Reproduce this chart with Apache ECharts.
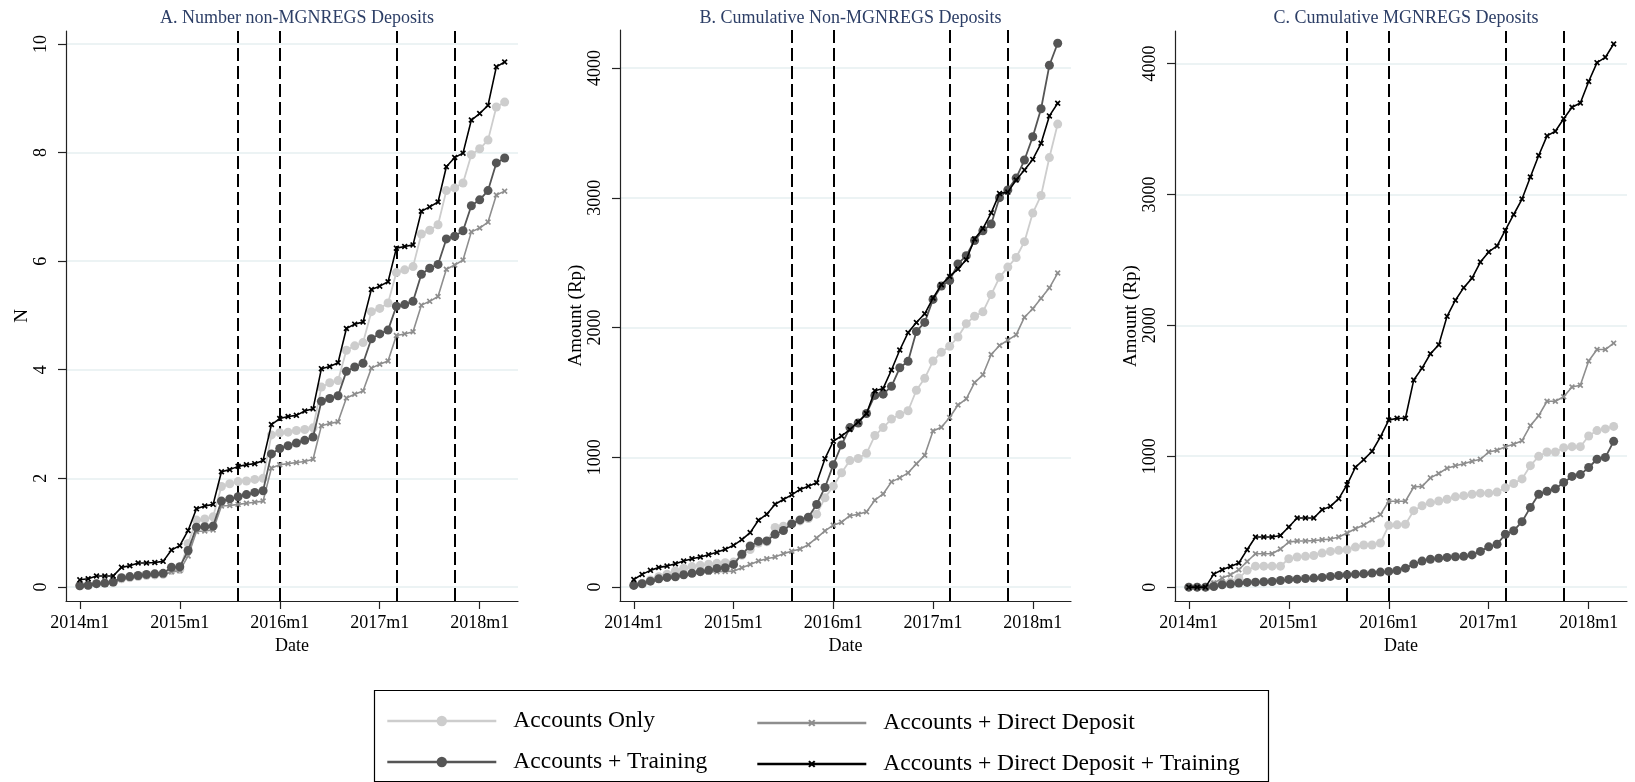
<!DOCTYPE html>
<html><head><meta charset="utf-8">
<script src="https://cdn.jsdelivr.net/npm/echarts@6/dist/echarts.min.js"></script>
<style>html,body{margin:0;padding:0;background:#fff}#c{width:1635px;height:782px}</style>
</head><body><div id="c"></div>
<script>
// ---- data ----
const dates = ['2014m1','2014m2','2014m3','2014m4','2014m5','2014m6','2014m7','2014m8','2014m9','2014m10','2014m11','2014m12',
 '2015m1','2015m2','2015m3','2015m4','2015m5','2015m6','2015m7','2015m8','2015m9','2015m10','2015m11','2015m12',
 '2016m1','2016m2','2016m3','2016m4','2016m5','2016m6','2016m7','2016m8','2016m9','2016m10','2016m11','2016m12',
 '2017m1','2017m2','2017m3','2017m4','2017m5','2017m6','2017m7','2017m8','2017m9','2017m10','2017m11','2017m12',
 '2018m1','2018m2','2018m3','2018m4'];
const tickLabels = ['2014m1','2015m1','2016m1','2017m1','2018m1'];
const eventDates = ['2015m8','2016m1','2017m3','2017m10'];
const seriesNames = ['Accounts Only','Accounts + Training','Accounts + Direct Deposit','Accounts + Direct Deposit + Training'];
const panelTitles = ['A. Number non-MGNREGS Deposits','B. Cumulative Non-MGNREGS Deposits','C. Cumulative MGNREGS Deposits'];
const yTitles = ['N','Amount (Rp)','Amount (Rp)'];
const yTicksA = [0,2,4,6,8,10];
const yTicksBC = [0,1000,2000,3000,4000];

// Panel A: number of non-MGNREGS deposits
const A_only = [0.02,0.03,0.06,0.07,0.08,0.15,0.17,0.19,0.21,0.22,0.23,0.30,0.32,0.80,1.23,1.25,1.29,1.85,1.90,1.94,1.95,1.98,2.00,2.80,2.84,2.85,2.88,2.90,2.93,3.68,3.76,3.80,4.36,4.44,4.50,5.07,5.13,5.23,5.79,5.84,5.90,6.50,6.57,6.67,7.30,7.35,7.44,7.96,8.07,8.23,8.84,8.93];
const A_train = [0.02,0.03,0.06,0.07,0.09,0.17,0.19,0.21,0.23,0.24,0.25,0.36,0.37,0.67,1.10,1.11,1.12,1.58,1.62,1.66,1.70,1.74,1.77,2.45,2.55,2.60,2.65,2.70,2.76,3.42,3.47,3.52,3.97,4.05,4.12,4.57,4.66,4.73,5.17,5.20,5.26,5.76,5.87,5.94,6.41,6.46,6.56,7.02,7.13,7.30,7.81,7.90];
const A_dd = [0.02,0.03,0.05,0.06,0.07,0.14,0.16,0.18,0.20,0.21,0.22,0.28,0.30,0.57,1.02,1.03,1.05,1.49,1.50,1.52,1.54,1.56,1.58,2.19,2.25,2.27,2.29,2.31,2.35,2.97,3.01,3.04,3.48,3.55,3.61,4.03,4.10,4.16,4.63,4.66,4.70,5.19,5.26,5.35,5.85,5.93,6.02,6.54,6.61,6.72,7.22,7.29];
const A_ddt = [0.13,0.15,0.20,0.20,0.20,0.36,0.39,0.44,0.44,0.45,0.47,0.68,0.76,1.04,1.44,1.49,1.52,2.12,2.16,2.22,2.25,2.27,2.33,2.99,3.10,3.14,3.16,3.24,3.28,4.02,4.06,4.13,4.76,4.84,4.88,5.48,5.54,5.62,6.24,6.27,6.30,6.92,7.00,7.09,7.74,7.91,7.99,8.60,8.72,8.87,9.58,9.67];

// Panel B: cumulative non-MGNREGS deposits (Rp)
const B_only = [15,30,55,80,100,125,145,158,168,176,183,188,193,245,290,340,350,459,469,490,510,528,562,688,778,881,975,991,1031,1168,1229,1295,1330,1359,1517,1609,1742,1810,1856,1927,2030,2087,2121,2254,2387,2466,2540,2662,2882,3018,3310,3568];
const B_train = [13,26,46,64,75,80,95,106,119,129,144,149,175,253,317,353,356,407,436,487,518,539,637,768,943,1096,1229,1265,1338,1477,1487,1547,1690,1740,1970,2040,2217,2320,2363,2490,2554,2671,2746,2798,3001,3061,3152,3291,3470,3686,4021,4191];
const B_dd = [10,25,40,55,65,75,88,100,111,116,119,121,123,149,175,201,219,232,258,276,294,327,379,433,477,500,550,562,580,670,718,811,842,880,950,1016,1203,1232,1307,1403,1451,1576,1636,1792,1862,1903,1944,2080,2145,2225,2306,2420];
const B_ddt = [59,98,129,152,162,180,201,219,232,250,268,291,322,366,420,515,562,639,675,711,753,778,804,990,1124,1165,1214,1273,1338,1513,1531,1673,1827,1961,2039,2106,2227,2330,2394,2451,2523,2683,2763,2884,3034,3044,3137,3214,3296,3420,3631,3729];

// Panel C: cumulative MGNREGS deposits (Rp)
const C_only = [0,0,0,18,31,38,69,128,160,160,160,160,217,230,235,242,260,273,281,286,306,322,322,337,472,476,480,584,622,644,658,671,690,699,710,718,718,726,759,792,827,928,999,1032,1032,1065,1073,1073,1155,1196,1209,1228];
const C_train = [0,0,0,5,18,23,31,36,38,41,43,51,59,61,66,69,74,82,89,94,99,102,107,115,120,127,145,176,199,213,221,227,232,235,246,273,308,328,404,431,500,609,710,732,751,800,846,860,914,977,991,1114];
const C_dd = [0,0,0,31,69,94,133,196,255,255,255,291,344,352,352,355,362,367,383,413,446,474,515,554,656,656,656,765,770,835,868,909,928,942,961,977,1032,1046,1073,1092,1119,1234,1310,1420,1420,1455,1529,1542,1728,1815,1815,1864];
const C_ddt = [0,0,0,99,133,158,184,286,383,383,383,395,459,528,528,528,592,617,676,783,916,974,1038,1148,1276,1290,1290,1583,1673,1783,1851,2069,2192,2288,2361,2484,2561,2607,2727,2847,2965,3134,3298,3448,3483,3579,3666,3699,3863,4007,4048,4150];

// ---- styling / layout ----
const FONT = 'Liberation Serif';
const panels = [
  {data:[A_only,A_train,A_dd,A_ddt], yMin:-0.26, yMax:10.24, yTicks:yTicksA, grid:{left:66, top:31, width:452, height:570}},
  {data:[B_only,B_train,B_dd,B_ddt], yMin:-107, yMax:4293, yTicks:yTicksBC, grid:{left:620, top:30, width:451, height:571}},
  {data:[C_only,C_train,C_dd,C_ddt], yMin:-106, yMax:4249, yTicks:yTicksBC, grid:{left:1175, top:31, width:452, height:570}}
];
const XSYM = 'path://M0,2L2,0L5,3L8,0L10,2L7,5L10,8L8,10L5,7L2,10L0,8L3,5Z';
const styles = [
  {color:'#cdcdcd', symbol:'circle', size:9, width:1.8, z:2},
  {color:'#555555', symbol:'circle', size:9, width:1.8, z:4},
  {color:'#8e8e8e', symbol:XSYM, size:6, width:1.6, z:3},
  {color:'#000000', symbol:XSYM, size:6, width:1.6, z:5}
];
const tickIdx = tickLabels.map(t => dates.indexOf(t));
const eventIdx = eventDates.map(t => dates.indexOf(t));

const grids = [], xAxes = [], yAxes = [], series = [], titles = [];
panels.forEach((p, k) => {
  grids.push(Object.assign({containLabel:false}, p.grid));
  titles.push({text: panelTitles[k], left: p.grid.left + p.grid.width/2, top: 4, textAlign:'center',
    textStyle:{fontFamily:FONT, fontSize:18, fontWeight:'normal', color:'#2c3e66'}});
  xAxes.push({type:'value', gridIndex:k, min:-1.66, max:52.6,
    axisLine:{show:true, onZero:false, lineStyle:{color:'#222', width:1.2}},
    axisTick:{show:true, length:8, customValues:tickIdx, lineStyle:{color:'#222', width:1.2}},
    axisLabel:{customValues:tickIdx, formatter:v => dates[Math.round(v)], margin:13,
      fontFamily:FONT, fontSize:18, color:'#000'},
    splitLine:{show:false},
    name:'Date', nameLocation:'middle', nameGap:34,
    nameTextStyle:{fontFamily:FONT, fontSize:18, color:'#000'}});
  yAxes.push({type:'value', gridIndex:k, min:p.yMin, max:p.yMax,
    axisLine:{show:true, onZero:false, lineStyle:{color:'#222', width:1.2}},
    axisTick:{show:true, length:8, customValues:p.yTicks, lineStyle:{color:'#222', width:1.2}},
    axisLabel:{customValues:p.yTicks, rotate:90, margin:16, formatter:v => String(v),
      fontFamily:FONT, fontSize:18, color:'#000'},
    splitLine:{show:true, lineStyle:{color:'#e6eff1', width:1.5}},
    name:yTitles[k], nameLocation:'middle', nameGap:32, nameRotate:90,
    nameTextStyle:{fontFamily:FONT, fontSize:19, color:'#000'}});
  p.data.forEach((vals, s) => {
    const st = styles[s];
    const ser = {type:'line', name:seriesNames[s], xAxisIndex:k, yAxisIndex:k,
      data: dates.map((d, i) => [i, vals[i]]),
      symbol: st.symbol, symbolSize: st.size, showAllSymbol:true, z:st.z,
      lineStyle:{color:st.color, width:st.width},
      itemStyle:{color:st.color, borderWidth:0}};
    if (s === 3) {
      ser.markLine = {silent:true, symbol:['none','none'], label:{show:false}, z:1,
        lineStyle:{color:'#000', width:2, type:[13,5]},
        data: eventIdx.map(m => ({xAxis:m}))};
    }
    series.push(ser);
  });
});

const legendPos = [
  {name:seriesNames[0], left:386, top:709, h:13},
  {name:seriesNames[2], left:756, top:711, h:9},
  {name:seriesNames[1], left:386, top:750, h:13},
  {name:seriesNames[3], left:756, top:752, h:9}
];
const legends = legendPos.map(l => ({data:[l.name], left:l.left, top:l.top, padding:0, orient:'horizontal',
  itemWidth:109, itemHeight:l.h, selectedMode:false,
  lineStyle:{width:2.6},
  textStyle:{fontFamily:FONT, fontSize:23.5, color:'#000', padding:[0,0,0,12]}}));

const chart = echarts.init(document.getElementById('c'), null, {renderer:'canvas'});
chart.setOption({
  animation:false, backgroundColor:'#fff',
  title: titles, grid: grids, xAxis: xAxes, yAxis: yAxes, series: series, legend: legends,
  graphic:[{type:'rect', left:372, top:688, shape:{width:894, height:91},
    style:{fill:'none', stroke:'#000', lineWidth:1.2}, silent:true}]
});
</script></body></html>
